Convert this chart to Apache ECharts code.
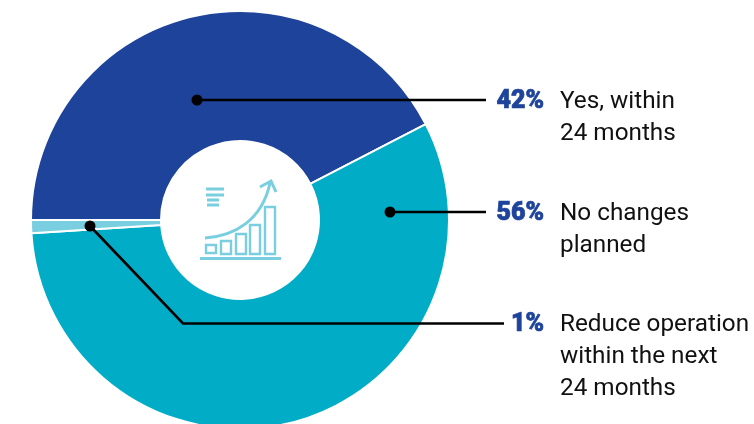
<!DOCTYPE html>
<html>
<head>
<meta charset="utf-8">
<style>html,body{margin:0;padding:0;background:#fff}#chart{width:754px;height:424px}</style>
<script src="https://cdn.jsdelivr.net/npm/echarts@6/dist/echarts.min.js"></script>
</head>
<body>
<div id="chart"></div>
<script>
// Share of respondents per answer
const answers = [
  ['Yes, within', '24 months'],
  ['No changes', 'planned'],
  ['Reduce operation', 'within the next', '24 months']
];
const shares = [42, 56, 1];
const sliceColors = ['#1E439B', '#00ACC6', '#79CEDF'];

const FONT = 'Roboto, sans-serif';
const ICON = '#79CEDF';
const INK = '#111111';

// Leader polylines: dot on the slice, optional elbow, end by the percentage
const leaders = [
  [[197, 100], [486, 100]],
  [[390, 212], [486, 212]],
  [[90, 226], [183, 323.5], [504, 323.5]]
];
const rowTops = [100, 212, 323];

const graphics = [];

leaders.forEach(function (pts) {
  graphics.push({
    type: 'polyline', z: 10,
    shape: { points: pts },
    style: { stroke: '#000', lineWidth: 2.6, fill: null, lineJoin: 'miter' }
  });
  graphics.push({
    type: 'circle', z: 11,
    shape: { cx: pts[0][0], cy: pts[0][1], r: 5.5 },
    style: { fill: '#000' }
  });
});

answers.forEach(function (lines, i) {
  graphics.push({
    type: 'text', z: 12,
    style: {
      x: 544, y: rowTops[i] + 2, text: shares[i] + '%',
      align: 'right', verticalAlign: 'middle',
      font: '900 25px ' + FONT, fill: sliceColors[0],
      stroke: sliceColors[0], lineWidth: 0.7
    }
  });
  lines.forEach(function (line, j) {
    graphics.push({
      type: 'text', z: 12,
      style: {
        x: 560, y: rowTops[i] + 2 + j * 32, text: line,
        align: 'left', verticalAlign: 'middle',
        font: '400 24.3px ' + FONT, fill: INK
      }
    });
  });
});

// Growth icon in the centre of the ring
const iconStroke = { stroke: ICON, lineWidth: 2.4, fill: null };
[[206, 245, 10, 8], [221, 241, 10, 13], [236, 234, 10, 20], [250, 225, 10, 29], [265, 207, 10, 47]]
  .forEach(function (b) {
    graphics.push({ type: 'rect', z: 5, shape: { x: b[0], y: b[1], width: b[2], height: b[3] }, style: iconStroke });
  });
graphics.push({ type: 'rect', z: 5, shape: { x: 200, y: 257, width: 81, height: 3 }, style: { fill: ICON } });
[[206, 188, 18], [206, 194, 18], [207, 199, 12], [207, 204, 12]].forEach(function (r) {
  graphics.push({ type: 'rect', z: 5, shape: { x: r[0], y: r[1] - 0.5, width: r[2], height: 3 }, style: { fill: ICON } });
});
graphics.push({
  type: 'bezierCurve', z: 5,
  shape: { x1: 205, y1: 238, cpx1: 235, cpy1: 236, cpx2: 262, cpy2: 220, x2: 270, y2: 183 },
  style: { stroke: ICON, lineWidth: 3, fill: null }
});
graphics.push({
  type: 'polyline', z: 5,
  shape: { points: [[260, 187], [271, 181], [276, 192]] },
  style: { stroke: ICON, lineWidth: 3, fill: null }
});

const chart = echarts.init(document.getElementById('chart'));
chart.setOption({
  animation: false,
  backgroundColor: '#fff',
  series: [{
    type: 'pie',
    center: [240, 220],
    radius: [79, 209],
    startAngle: 180,
    clockwise: true,
    silent: true,
    label: { show: false },
    labelLine: { show: false },
    itemStyle: { borderColor: '#fff', borderWidth: 2 },
    data: shares.map(function (v, i) {
      return { value: v, name: answers[i].join(' '), itemStyle: { color: sliceColors[i] } };
    })
  }],
  graphic: { elements: graphics }
});
</script>
</body>
</html>
